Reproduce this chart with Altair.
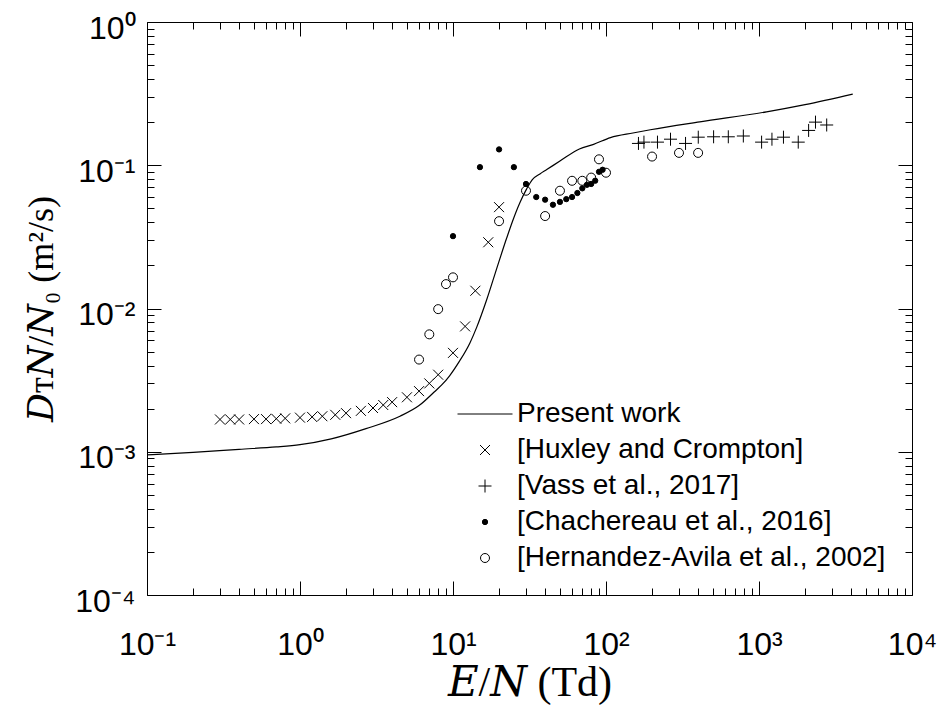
import altair as alt
import pandas as pd

# ---------------- data ----------------
curve_E = [0.1, 0.2, 0.4, 0.7, 1.0, 1.6, 2.7, 4.5, 6.0, 7.5, 8.5, 9.5, 11, 12.9, 14.3, 16.6,
           19.3, 22.4, 24.5, 27.4, 30.3, 33, 37, 41, 50, 67, 83, 107, 150, 195, 410, 1120, 2000, 4100]
curve_D = [9.5e-4, 9.9e-4, 1.04e-3, 1.08e-3, 1.12e-3, 1.23e-3, 1.45e-3, 1.77e-3, 2.1e-3, 2.6e-3,
           2.95e-3, 3.39e-3, 4.27e-3, 5.75e-3, 7.41e-3, 1.15e-2, 1.9e-2, 3.09e-2, 4.07e-2, 5.5e-2,
           6.84e-2, 7.94e-2, 8.7e-2, 9.33e-2, 0.107, 0.13, 0.14, 0.156, 0.168, 0.177, 0.201, 0.236,
           0.265, 0.314]

hux_E = [0.3, 0.35, 0.4, 0.5, 0.6, 0.7, 0.8, 1.0, 1.2, 1.4, 1.7, 2.0, 2.5, 3.0, 3.5, 4.0,
         5, 6, 7, 8, 10, 12, 14, 17, 20]
hux_D = [1.68e-3, 1.68e-3, 1.68e-3, 1.69e-3, 1.69e-3, 1.70e-3, 1.71e-3, 1.73e-3, 1.75e-3, 1.77e-3,
         1.81e-3, 1.86e-3, 1.93e-3, 2.02e-3, 2.12e-3, 2.22e-3, 2.4e-3, 2.65e-3, 3.0e-3, 3.45e-3,
         4.9e-3, 7.5e-3, 1.33e-2, 2.9e-2, 5.1e-2]

vass_E = [163, 177, 217, 264, 331, 401, 505, 630, 790, 1040, 1215, 1445, 1805, 2110, 2340, 2770]
vass_D = [0.142, 0.145, 0.145, 0.152, 0.142, 0.157, 0.158, 0.158, 0.160, 0.145, 0.152, 0.157,
          0.145, 0.175, 0.200, 0.191]

chach_E = [10, 15, 20, 25, 30, 35, 40, 45, 50, 55, 60, 65, 70, 75, 80, 85, 90, 95]
chach_D = [0.032, 0.097, 0.129, 0.097, 0.074, 0.060, 0.0575, 0.053, 0.0555, 0.058, 0.060, 0.064,
           0.069, 0.073, 0.074, 0.078, 0.090, 0.093]

hern_E = [6, 7, 8, 9, 10, 20, 30, 40, 50, 60, 70, 80, 90, 100, 200, 300, 400]
hern_D = [4.4e-3, 6.6e-3, 9.9e-3, 0.0148, 0.0165, 0.0407, 0.0664, 0.0442, 0.0664, 0.0779, 0.0779,
          0.082, 0.11, 0.0887, 0.115, 0.122, 0.122]

series_names = ["Present work", "[Huxley and Crompton]", "[Vass et al., 2017]",
                "[Chachereau et al., 2016]", "[Hernandez-Avila et al., 2002]"]

x_major = [0.1, 1, 10, 100, 1000, 10000]
x_minor = [m * 10 ** k for k in range(-1, 4) for m in range(2, 10)]
y_major = [1e-4, 1e-3, 1e-2, 1e-1, 1]
y_minor = [m * 10 ** k for k in range(-4, 0) for m in range(2, 10)]
x_labels = ["10⁻¹", "10⁰", "10¹", "10²", "10³", "10⁴"]
y_labels = ["10⁻⁴", "10⁻³", "10⁻²", "10⁻¹", "10⁰"]

x_title = "𝐸/𝑁 (Td)"
y_title = "𝐷ᴛ𝑁/𝑁₀ (m²/s)"

# ---------------- layout / style ----------------
W, H = 765, 573
MAJ, MIN = 14, 7
TICK_COLOR = "black"
SANS = "Liberation Sans"
SERIF = "Liberation Serif, DejaVu Serif"

shapes = ["M-5.5,0L5.5,0", "M-1,-1L1,1M-1,1L1,-1", "M-1,0L1,0M0,-1L0,1", "circle", "circle"]
fills = ["transparent", "transparent", "transparent", "black", "transparent"]
strokes = ["black"] * 5
sizes = [100, 100, 169, 28, 81]

xs = alt.Scale(type="log", domain=[0.1, 1e4], nice=False)
ys = alt.Scale(type="log", domain=[1e-4, 1], nice=False)

def lab_expr(labels, first_exp):
    arr = "[" + ",".join("'%s'" % s for s in labels) + "]"
    return "%s[round(log(datum.value)/LN10)+%d]" % (arr, -first_exp)

x_label_axis = alt.Axis(values=x_major, labelExpr=lab_expr(x_labels, -1), ticks=False, tickSize=0,
                        domain=False, grid=False, labelFont=SANS, labelFontSize=32,
                        labelColor="black", labelPadding=34, labelFlush=False, labelOverlap=False,
                        title=x_title, titleFont=SERIF, titleFontSize=42, titleFontWeight="normal",
                        titleColor="black", titlePadding=2)
y_label_axis = alt.Axis(values=y_major, labelExpr=lab_expr(y_labels, -4), ticks=False, tickSize=0,
                        domain=False, grid=False, labelFont=SANS, labelFontSize=32,
                        labelColor="black", labelPadding=12, labelOffset=6, labelFlush=False,
                        labelOverlap=False, title=y_title, titleFont=SERIF, titleFontSize=36,
                        titleFontWeight="normal", titleColor="black", titlePadding=14)

def tick_axis(orient, offset, values, size):
    # an unlabeled axis moved onto the opposite frame edge so that its ticks point inward
    return alt.Axis(orient=orient, offset=offset, values=values, tickSize=size, ticks=True,
                    tickColor=TICK_COLOR, tickWidth=1, labels=False, domain=False, grid=False,
                    title=None, zindex=1)

x_axes = [x_label_axis,
          tick_axis("top", -H, x_major, MAJ), tick_axis("top", -H, x_minor, MIN),
          tick_axis("bottom", -H, x_major, MAJ), tick_axis("bottom", -H, x_minor, MIN)]
y_axes = [y_label_axis,
          tick_axis("right", -W, y_major, MAJ), tick_axis("right", -W, y_minor, MIN),
          tick_axis("left", -W, y_major, MAJ), tick_axis("left", -W, y_minor, MIN)]

leg = alt.Legend(orient="none", legendX=324, legendY=378, title=None, padding=0,
                 labelFont=SANS, labelFontSize=28, labelColor="black", labelOffset=18,
                 rowPadding=8, symbolStrokeColor="black", symbolStrokeWidth=1, labelLimit=600)

def enc_xy(i):
    return dict(x=alt.X("x:Q", scale=xs, axis=x_axes[i]), y=alt.Y("y:Q", scale=ys, axis=y_axes[i]))

line = alt.Chart(pd.DataFrame({"x": curve_E, "y": curve_D})).mark_line(
    color="black", strokeWidth=1.2, interpolate="monotone").encode(**enc_xy(0))

def scatter(i, name, E, D):
    df = pd.DataFrame({"x": E, "y": D, "series": [name] * len(E)})
    return alt.Chart(df).mark_point(filled=False, stroke="black", strokeWidth=1, opacity=1).encode(
        **enc_xy(i),
        shape=alt.Shape("series:N", scale=alt.Scale(domain=series_names, range=shapes), legend=leg),
        fill=alt.Fill("series:N", scale=alt.Scale(domain=series_names, range=fills), legend=leg),
        stroke=alt.Stroke("series:N", scale=alt.Scale(domain=series_names, range=strokes),
                          legend=leg),
        size=alt.Size("series:N", scale=alt.Scale(type="ordinal", domain=series_names,
                                                  range=sizes), legend=leg),
    )

layers = [line,
          scatter(1, series_names[1], hux_E, hux_D),
          scatter(2, series_names[2], vass_E, vass_D),
          scatter(3, series_names[3], chach_E, chach_D),
          scatter(4, series_names[4], hern_E, hern_D)]

chart = alt.layer(*layers).resolve_axis(x="independent", y="independent").properties(
    width=W, height=H, background="white",
    padding={"left": 147, "top": 22, "right": 34, "bottom": 118},
    autosize=alt.AutoSizeParams(type="none"),
).configure_view(stroke="black", strokeWidth=1)

chart.save("out.html", embed_options={"renderer": "svg", "actions": False})
